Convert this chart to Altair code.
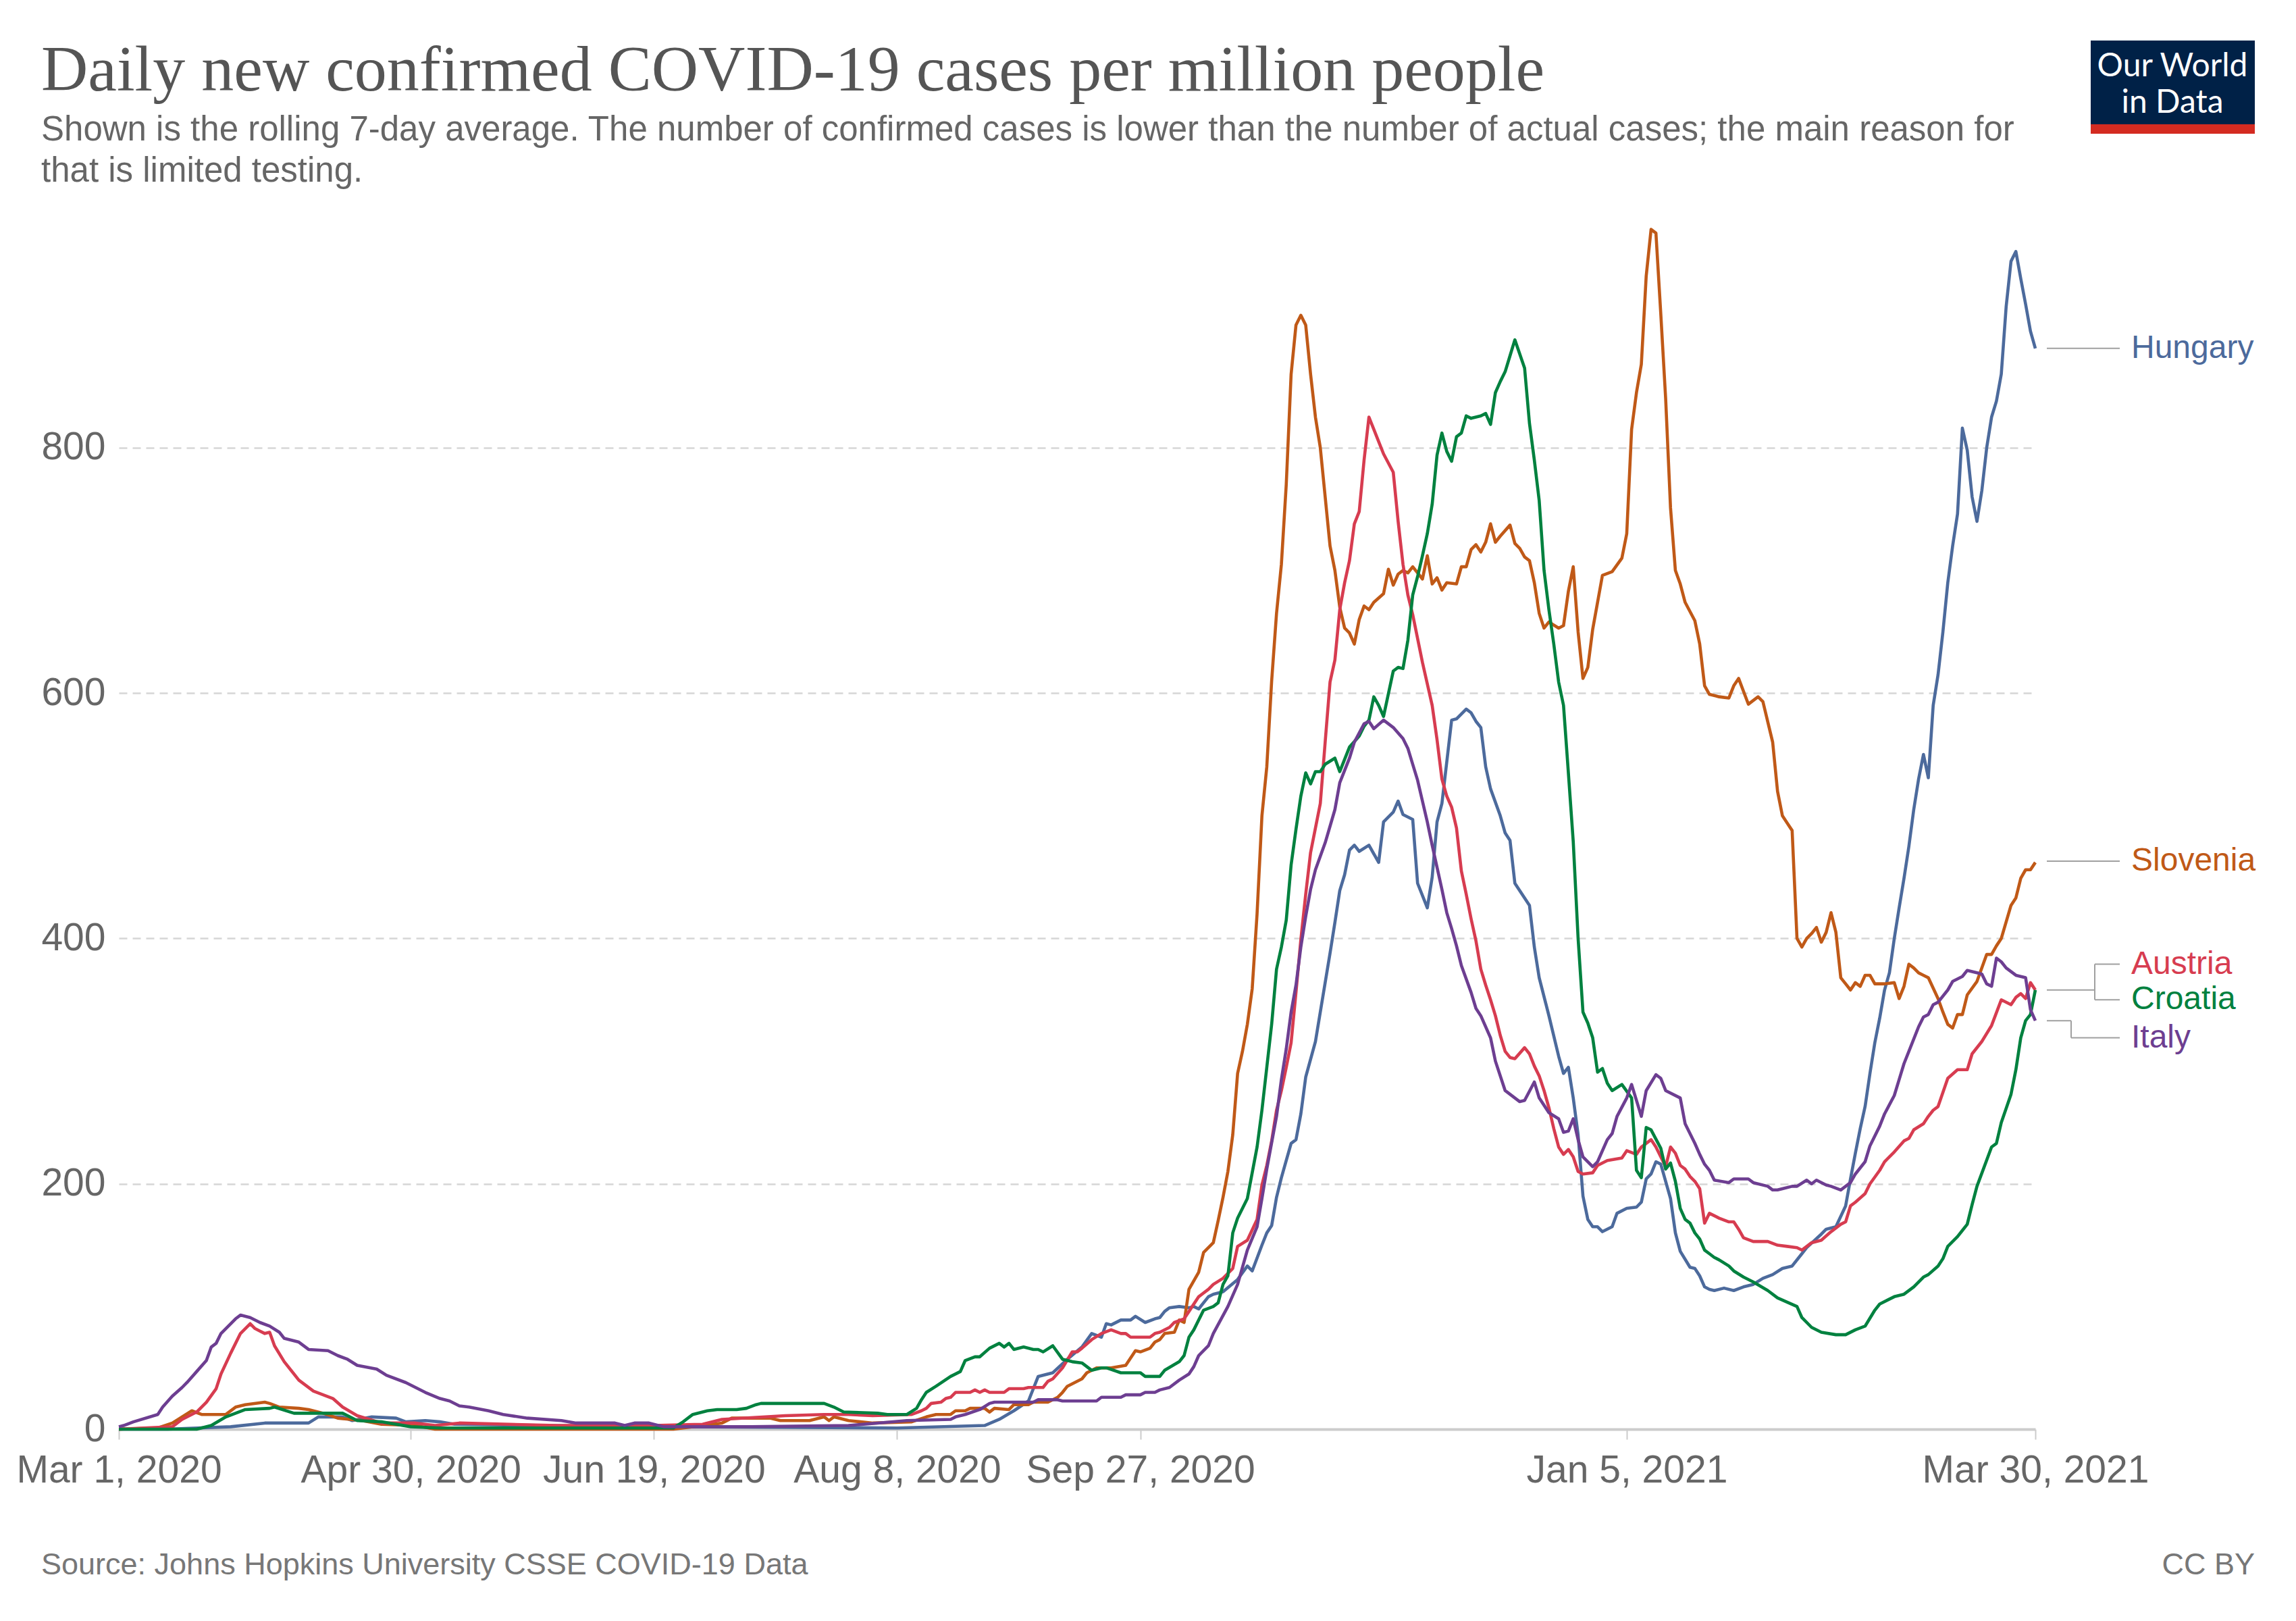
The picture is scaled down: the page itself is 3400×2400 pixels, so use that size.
import altair as alt
import pandas as pd

# ---------------- data (day offset from 2020-03-01, cases per million) ----------------
countries = ["Hungary", "Slovenia", "Austria", "Croatia", "Italy"]
colors = ["#4C6A9C", "#C05917", "#D73C50", "#00813F", "#6D3E91"]

hungary = [(0,0),(10,0),(23,2),(30,5),(39,5),(41,10),(46,10),(48,7),(52,10),(57,9),(59,6),(63,7),(66,6),(69,4),(88,3),(112,2),(160,1),(178,3),(181,8),(184,15),(187,23),(189,43),(192,46),(195,57),(198,67),(200,78),(202,75),(203,86),(204,85),(206,89),(208,89),(209,92),(211,87),(213,90),(214,91),(215,96),(216,99),(218,100),(220,99),(221,100),(222,98),(223,103),(224,108),(225,110),(227,112),(230,122),(232,133),(233,129),(235,150),(236,160),(237,166),(238,189),(239,205),(240,219),(241,233),(242,236),(243,257),(244,287),(246,316),(247,340),(249,388),(250,413),(251,439),(252,452),(253,472),(254,476),(255,471),(257,476),(259,462),(260,495),(262,503),(263,512),(264,501),(266,497),(267,445),(269,425),(270,450),(271,495),(272,510),(274,578),(275,579),(277,587),(278,584),(279,577),(280,572),(281,540),(282,522),(284,500),(285,486),(286,480),(287,445),(290,427),(291,393),(292,368),(294,337),(296,304),(297,290),(298,295),(299,270),(300,240),(301,190),(302,171),(303,165),(304,165),(305,161),(307,165),(308,176),(310,180),(312,181),(313,185),(314,204),(315,208),(316,218),(317,216),(318,202),(319,188),(320,160),(321,145),(323,132),(324,131),(325,125),(326,116),(327,114),(328,113),(330,115),(332,113),(334,116),(336,118),(338,123),(340,126),(342,131),(344,133),(346,143),(347,148),(350,159),(351,163),(353,165),(355,182),(356,204),(357,225),(358,245),(359,263),(360,290),(361,315),(362,335),(363,358),(364,372),(365,400),(366,425),(367,449),(368,475),(369,505),(370,530),(371,550),(372,531),(373,590),(374,615),(375,650),(376,690),(377,720),(378,746),(379,816),(380,798),(381,760),(382,740),(383,765),(384,800),(385,825),(386,838),(387,860),(388,915),(389,952),(390,960),(391,938),(392,917),(393,895),(394,881)]

slovenia = [(0,0),(8,1),(11,5),(15,15),(17,12),(22,12),(24,18),(26,20),(30,22),(31,21),(33,18),(37,17),(39,16),(42,13),(45,9),(50,7),(54,4),(61,3),(65,0),(114,0),(118,2),(124,5),(126,9),(134,9),(136,7),(142,7),(145,10),(146,7),(147,10),(150,7),(155,5),(163,6),(166,10),(168,12),(171,12),(172,15),(174,15),(175,17),(178,17),(179,14),(180,17),(183,16),(184,20),(187,20),(188,22),(191,22),(193,26),(194,30),(195,35),(198,41),(199,46),(201,50),(204,50),(207,52),(209,64),(210,63),(212,66),(213,71),(214,73),(215,78),(217,79),(218,89),(219,87),(220,114),(222,128),(223,144),(224,148),(225,152),(226,170),(227,189),(228,210),(229,240),(230,290),(231,308),(232,330),(233,359),(234,420),(235,500),(236,540),(237,610),(238,665),(239,705),(240,770),(241,860),(242,900),(243,908),(244,900),(245,860),(246,825),(247,800),(248,760),(249,720),(250,700),(251,670),(252,653),(253,649),(254,640),(255,660),(256,671),(257,668),(258,674),(260,681),(261,701),(262,688),(263,697),(264,700),(265,698),(266,703),(268,693),(269,712),(270,689),(271,694),(272,684),(273,690),(275,689),(276,703),(277,703),(278,717),(279,721),(280,715),(281,723),(282,738),(283,723),(284,728),(286,737),(287,722),(288,718),(289,711),(290,708),(291,690),(292,665),(293,653),(294,658),(296,653),(297,655),(298,683),(299,703),(300,650),(301,612),(302,621),(303,652),(305,696),(307,699),(309,710),(310,730),(311,815),(312,845),(313,868),(314,940),(315,978),(316,975),(317,909),(318,840),(319,751),(320,700),(321,689),(322,674),(324,659),(325,640),(326,606),(327,599),(329,597),(331,596),(332,606),(333,612),(335,591),(337,597),(338,593),(340,560),(341,520),(342,500),(343,494),(344,488),(345,400),(346,393),(347,400),(348,404),(349,409),(350,397),(351,405),(352,421),(353,405),(354,368),(355,363),(356,358),(357,364),(358,361),(359,370),(360,370),(361,363),(363,363),(365,364),(366,351),(367,361),(368,379),(369,376),(370,372),(371,370),(372,368),(374,351),(375,340),(376,330),(377,327),(378,338),(379,338),(380,354),(382,365),(384,387),(385,387),(386,394),(387,400),(389,427),(390,433),(391,449),(392,456),(393,456),(394,462)]

austria = [(0,0),(11,2),(13,8),(16,14),(18,22),(20,33),(21,45),(23,62),(25,78),(27,86),(28,82),(29,80),(30,78),(31,79),(32,68),(34,55),(37,40),(40,31),(44,25),(46,18),(49,11),(54,5),(61,5),(65,3),(70,5),(90,3),(110,3),(120,4),(124,8),(137,11),(145,12),(150,12),(155,11),(163,12),(165,15),(166,17),(167,21),(169,22),(170,25),(171,26),(172,30),(175,30),(176,32),(177,30),(178,32),(179,30),(182,30),(183,33),(186,33),(187,34),(190,34),(191,39),(192,41),(194,50),(196,63),(197,63),(198,66),(200,73),(202,78),(204,81),(206,78),(207,78),(208,75),(212,75),(213,78),(214,79),(216,83),(217,87),(219,90),(220,96),(222,108),(224,114),(225,118),(227,123),(229,131),(230,149),(232,154),(234,171),(235,199),(236,215),(237,235),(238,260),(239,276),(240,295),(241,315),(242,356),(243,399),(244,436),(245,470),(246,490),(247,510),(248,560),(249,609),(250,627),(251,668),(252,690),(253,708),(254,738),(255,748),(256,790),(257,825),(258,815),(259,805),(260,795),(262,780),(263,740),(264,705),(265,680),(266,664),(268,625),(270,590),(271,562),(272,530),(273,516),(274,507),(275,490),(276,455),(277,436),(278,416),(279,398),(280,375),(281,362),(282,350),(283,337),(284,321),(285,308),(286,303),(287,302),(289,311),(290,306),(291,296),(292,288),(293,276),(294,262),(295,245),(296,230),(297,224),(298,228),(299,222),(300,210),(301,208),(303,209),(304,215),(306,219),(309,221),(310,227),(312,224),(313,230),(314,233),(315,236),(316,230),(317,222),(318,214),(319,230),(320,225),(321,215),(322,212),(323,206),(324,202),(325,196),(326,168),(327,176),(329,172),(331,169),(332,169),(333,163),(334,156),(336,153),(339,153),(341,150),(343,149),(345,148),(346,146),(348,152),(350,154),(352,161),(354,167),(355,169),(356,182),(357,185),(359,192),(360,200),(362,211),(363,218),(365,226),(367,235),(368,237),(369,244),(371,249),(372,255),(373,260),(374,263),(376,286),(378,293),(380,293),(381,306),(383,316),(385,329),(387,350),(389,346),(390,352),(391,355),(392,351),(393,364),(394,358)]

croatia = [(0,0),(16,0),(19,3),(22,10),(26,16),(31,17),(32,18),(36,13),(46,13),(49,7),(54,6),(60,2),(66,1),(114,1),(116,6),(118,12),(121,15),(123,16),(127,16),(129,17),(131,20),(132,21),(135,21),(145,21),(147,18),(149,14),(156,13),(158,12),(162,12),(164,17),(165,24),(166,30),(168,35),(171,43),(173,47),(174,56),(176,59),(177,59),(179,66),(181,70),(182,67),(183,70),(184,65),(186,67),(188,65),(189,65),(190,63),(192,68),(194,57),(196,55),(198,54),(200,48),(202,50),(203,50),(206,46),(210,46),(211,43),(214,43),(215,48),(218,55),(219,60),(220,75),(221,81),(223,97),(225,100),(226,103),(227,118),(228,125),(229,160),(230,172),(232,188),(234,230),(235,260),(236,295),(237,330),(238,375),(239,393),(240,415),(241,460),(242,489),(243,516),(244,535),(245,526),(246,536),(247,536),(248,542),(250,547),(251,536),(253,556),(255,565),(256,573),(257,578),(258,597),(259,590),(260,581),(262,618),(263,621),(264,620),(265,643),(266,680),(267,695),(268,712),(269,730),(270,754),(271,794),(272,812),(273,797),(274,789),(275,809),(276,812),(277,826),(278,824),(280,826),(281,828),(282,819),(283,845),(284,854),(285,862),(286,875),(287,888),(289,865),(290,820),(291,790),(292,757),(293,700),(294,668),(295,640),(296,609),(297,590),(298,535),(299,479),(300,400),(301,340),(302,331),(303,319),(304,291),(305,294),(306,282),(307,276),(309,281),(311,270),(312,211),(313,205),(314,246),(315,244),(317,229),(318,212),(319,217),(320,202),(321,180),(322,171),(323,168),(324,160),(325,155),(326,146),(327,143),(328,140),(329,138),(331,133),(332,129),(334,124),(336,120),(339,113),(341,107),(345,100),(346,91),(348,83),(350,79),(353,77),(355,77),(357,81),(359,84),(361,97),(362,102),(365,108),(367,110),(369,116),(371,124),(372,126),(374,133),(375,139),(376,149),(378,157),(379,162),(380,167),(381,183),(382,198),(385,230),(386,233),(387,250),(389,273),(390,293),(391,319),(392,333),(393,338),(394,358)]

italy = [(0,2),(1,3),(3,6),(8,12),(9,18),(11,27),(13,34),(14,38),(16,47),(18,56),(19,67),(20,70),(21,78),(24,90),(25,93),(27,91),(29,87),(31,84),(33,79),(34,74),(37,71),(39,65),(43,64),(45,60),(47,57),(49,52),(53,49),(55,44),(59,38),(61,34),(63,30),(66,25),(68,23),(70,19),(72,18),(76,15),(79,12),(84,9),(91,7),(94,5),(102,5),(104,3),(106,5),(109,5),(112,2),(130,2),(150,3),(156,5),(162,7),(171,8),(172,10),(174,12),(177,16),(179,21),(180,22),(188,22),(189,24),(193,24),(194,23),(201,23),(202,26),(206,26),(207,28),(210,28),(211,30),(213,30),(214,32),(216,34),(218,40),(220,45),(221,51),(222,60),(224,68),(225,78),(228,100),(230,118),(232,146),(234,165),(235,188),(236,212),(238,255),(239,285),(240,310),(241,340),(242,362),(243,393),(244,418),(245,440),(246,456),(248,478),(250,505),(251,527),(253,547),(254,560),(256,575),(257,577),(258,571),(260,578),(262,572),(264,563),(265,555),(266,542),(267,529),(269,495),(270,476),(272,440),(273,421),(274,408),(275,394),(276,378),(278,356),(279,343),(280,337),(282,319),(283,300),(285,276),(286,273),(288,267),(289,268),(291,283),(292,270),(294,258),(296,253),(297,242),(298,243),(299,253),(300,236),(301,222),(303,214),(304,218),(306,236),(307,241),(308,255),(310,270),(311,281),(313,255),(314,276),(316,289),(317,286),(318,276),(321,270),(322,249),(324,233),(325,224),(326,216),(327,211),(328,203),(331,201),(332,204),(335,204),(336,201),(339,198),(340,195),(341,195),(342,196),(344,198),(345,198),(347,203),(348,200),(349,203),(351,199),(352,198),(354,195),(356,201),(357,208),(359,218),(360,231),(362,247),(363,257),(365,272),(366,285),(367,298),(368,308),(370,328),(371,336),(372,338),(373,346),(374,348),(376,358),(377,365),(379,369),(380,374),(382,372),(383,371),(384,363),(385,361),(386,384),(387,381),(388,376),(390,370),(392,368),(393,342),(394,333)]

# label anchor values on the right (value axis units)
label_values = [881, 463, 379, 350, 319]

x_tick_dates = [(2020, 3, 1), (2020, 4, 30), (2020, 6, 19), (2020, 8, 8), (2020, 9, 27), (2021, 1, 5), (2021, 3, 30)]
y_ticks = [0, 200, 400, 600, 800]

title_text = "Daily new confirmed COVID-19 cases per million people"
subtitle_lines = [
    "Shown is the rolling 7-day average. The number of confirmed cases is lower than the number of actual cases; the main reason for",
    "that is limited testing.",
]
source_text = "Source: Johns Hopkins University CSSE COVID-19 Data"
license_text = "CC BY"
logo_lines = ["Our World", "in Data"]

# ---------------- build table ----------------
series = {"Hungary": hungary, "Slovenia": slovenia, "Austria": austria, "Croatia": croatia, "Italy": italy}
rows = []
for name, pts in series.items():
    for d, v in pts:
        rows.append({"country": name, "day": d, "value": v})
df = pd.DataFrame(rows)
base = pd.Timestamp("2020-03-01")
df["date"] = (base + pd.to_timedelta(df["day"], unit="D")).dt.strftime("%Y-%m-%dT00:00:00")

labels_df = pd.DataFrame({"country": countries, "value": label_values})

# ---------------- layout ----------------
W, H = 2838, 1780
SANS = "Liberation Sans"
GREY = "#666666"

x_scale = alt.Scale(domain=[alt.DateTime(year=2020, month=3, date=1),
                            alt.DateTime(year=2021, month=3, date=30)], nice=False)
y_scale = alt.Scale(domain=[0, 980], nice=False)
color_scale = alt.Scale(domain=countries, range=colors)

lines = alt.Chart(df).mark_line(strokeWidth=4.6, strokeJoin="round").encode(
    x=alt.X("date:T", scale=x_scale, title=None,
            axis=alt.Axis(values=[alt.DateTime(year=y, month=m, date=d) for y, m, d in x_tick_dates],
                          format="%b %-d, %Y", labelFont=SANS, labelFontSize=57, labelColor=GREY,
                          labelPadding=18, labelLimit=1000, tickSize=15, tickWidth=2, tickColor="#cccccc",
                          domainColor="#cccccc", domainWidth=4, grid=False,
                          labelOverlap=False, labelFlush=False)),
    y=alt.Y("value:Q", scale=y_scale, title=None,
            axis=alt.Axis(values=y_ticks, labelFont=SANS, labelFontSize=57, labelColor=GREY,
                          labelPadding=20, ticks=False, domain=False, grid=True,
                          gridDash=[12, 8], gridColor="#d6d6d6", gridWidth=2.5)),
    color=alt.Color("country:N", scale=color_scale, legend=None),
    order=alt.Order("day:Q"),
)

labels = alt.Chart(labels_df).mark_text(align="left", baseline="middle", font=SANS, fontSize=48).encode(
    x=alt.value(2980),
    y=alt.Y("value:Q"),
    text="country:N",
    color=alt.Color("country:N", scale=color_scale, legend=None),
)

# connector segments: (x0, x1 in px from plot left, v0, v1 in value units)
segments = [
    (2855, 2963, 881, 881),
    (2855, 2963, 463, 463),
    (2855, 2926, 358, 358), (2926, 2926, 379, 350), (2926, 2963, 379, 379), (2926, 2963, 350, 350),
    (2855, 2891, 333, 333), (2891, 2891, 333, 319), (2891, 2963, 319, 319),
]
one = pd.DataFrame({"k": [0]})
connector_layers = [
    alt.Chart(one).mark_rule(color="#a0a0a0", strokeWidth=2).encode(
        x=alt.value(x0), x2=alt.value(x1), y=alt.datum(v0), y2=alt.datum(v1))
    for x0, x1, v0, v1 in segments
]

title = alt.Chart(pd.DataFrame({"t": [title_text]})).mark_text(
    align="left", baseline="alphabetic", font="Liberation Serif", fontSize=96, color="#555555").encode(
    x=alt.value(-115), y=alt.value(-202), text="t:N")
subtitle = alt.Chart(pd.DataFrame({"t": subtitle_lines, "yy": [-128, -67]})).mark_text(
    align="left", baseline="alphabetic", font=SANS, fontSize=51, color=GREY).encode(
    x=alt.value(-115), y=alt.Y("yy:Q", scale=None), text="t:N")

source = alt.Chart(pd.DataFrame({"t": [source_text]})).mark_text(
    align="left", baseline="alphabetic", font=SANS, fontSize=45, color="#777777").encode(
    x=alt.value(-115), y=alt.value(1995), text="t:N")
license_ = alt.Chart(pd.DataFrame({"t": [license_text]})).mark_text(
    align="right", baseline="alphabetic", font=SANS, fontSize=45, color="#777777").encode(
    x=alt.value(3163), y=alt.value(1995), text="t:N")

logo_box = alt.Chart(one).mark_rect(color="#002147").encode(
    x=alt.value(2920), x2=alt.value(3163), y=alt.value(-276), y2=alt.value(-152))
logo_bar = alt.Chart(one).mark_rect(color="#D42B21").encode(
    x=alt.value(2920), x2=alt.value(3163), y=alt.value(-152), y2=alt.value(-138))
logo_txt = alt.Chart(pd.DataFrame({"t": logo_lines, "yy": [-223, -169]})).mark_text(
    align="center", baseline="alphabetic", font="Lato", fontSize=48, color="white").encode(
    x=alt.value(3041), y=alt.Y("yy:Q", scale=None), text="t:N")

chart = alt.layer(lines, *connector_layers, labels, title, subtitle, source, license_,
                  logo_box, logo_bar, logo_txt).properties(
    width=W, height=H,
    autosize=alt.AutoSizeParams(type="none"),
    padding={"left": 168, "top": 328, "right": 370, "bottom": 270},
    background="white",
).configure_view(stroke=None)

chart.save("out.html", embed_options={"renderer": "svg", "actions": False})
